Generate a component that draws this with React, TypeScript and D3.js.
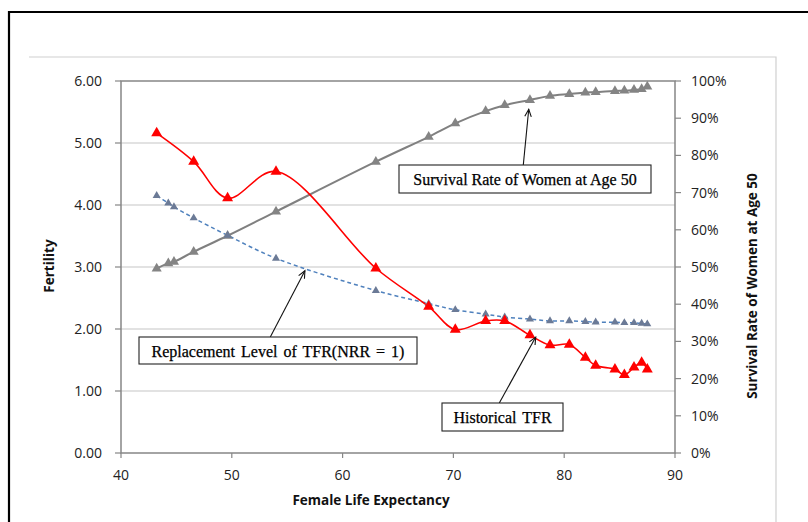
import { scaleLinear, line, curveCatmullRom, symbol, symbolTriangle } from "d3"

// female life expectancy (x) shared by all series
const lifeExp = [43.22, 44.27, 44.78, 46.56, 49.62, 53.99, 63.0, 67.77, 70.17, 72.91, 74.63, 76.91, 78.72, 80.46, 81.91, 82.84, 84.58, 85.43, 86.3, 86.99, 87.5]
const historicalTFR = [5.16, null, null, 4.7, 4.11, 4.54, 2.98, 2.36, 1.99, 2.13, 2.13, 1.9, 1.74, 1.75, 1.54, 1.41, 1.35, 1.26, 1.38, 1.46, 1.35]
const replacementTFR = [4.15, 4.03, 3.97, 3.79, 3.51, 3.14, 2.62, 2.41, 2.31, 2.24, 2.19, 2.16, 2.13, 2.13, 2.12, 2.11, 2.11, 2.1, 2.1, 2.09, 2.08]
const survival50 = [49.6, 51.0, 51.4, 54.1, 58.4, 64.9, 78.3, 85.0, 88.6, 91.9, 93.5, 94.9, 96.0, 96.5, 96.9, 97.0, 97.3, 97.4, 97.6, 97.8, 98.5]

const xTicks = [40, 50, 60, 70, 80, 90]
const fertTicks = [0, 1, 2, 3, 4, 5, 6]
const pctTicks = [0, 10, 20, 30, 40, 50, 60, 70, 80, 90, 100]

const W = 808
const H = 522
const MARGIN = { left: 121, top: 81, right: W - 675, bottom: H - 453 }
const FONT = "'Open Sans', 'Liberation Sans', sans-serif"
const SERIF = "'Liberation Serif', 'DejaVu Serif', serif"

function Arrow({ x1, y1, x2, y2 }: { x1: number; y1: number; x2: number; y2: number }) {
    const ang = Math.atan2(y2 - y1, x2 - x1)
    const len = 8
    const spread = 0.42
    const a1 = [x2 - len * Math.cos(ang - spread), y2 - len * Math.sin(ang - spread)]
    const a2 = [x2 - len * Math.cos(ang + spread), y2 - len * Math.sin(ang + spread)]
    return (
        <g stroke="#111" strokeWidth={1.1} fill="none">
            <line x1={x1} y1={y1} x2={x2} y2={y2} />
            <polyline points={`${a1[0]},${a1[1]} ${x2},${y2} ${a2[0]},${a2[1]}`} />
        </g>
    )
}

export default function App() {
    const boundsWidth = W - MARGIN.left - MARGIN.right
    const boundsHeight = H - MARGIN.top - MARGIN.bottom

    const xScale = scaleLinear().domain([40, 90]).range([0, boundsWidth])
    const yScale = scaleLinear().domain([0, 6]).range([boundsHeight, 0])
    const y2Scale = scaleLinear().domain([0, 100]).range([boundsHeight, 0])

    const tfrPts = lifeExp.map((x, i) => [x, historicalTFR[i]]).filter((d) => d[1] !== null) as [number, number][]
    const repPts = lifeExp.map((x, i) => [x, replacementTFR[i]]) as [number, number][]
    const survPts = lifeExp.map((x, i) => [x, survival50[i]]) as [number, number][]

    const fertLine = line<[number, number]>()
        .x((d) => xScale(d[0]))
        .y((d) => yScale(d[1]))
        .curve(curveCatmullRom.alpha(0.5))
    const survLine = line<[number, number]>()
        .x((d) => xScale(d[0]))
        .y((d) => y2Scale(d[1]))
        .curve(curveCatmullRom.alpha(0.5))

    const triBig = symbol(symbolTriangle, 52)() || ""
    const triMid = symbol(symbolTriangle, 44)() || ""
    const triSmall = symbol(symbolTriangle, 28)() || ""

    // arrow tips in data coordinates
    const survTip = { x: MARGIN.left + xScale(76.8), y: MARGIN.top + y2Scale(92.4) }
    const repTip = { x: MARGIN.left + xScale(56.6), y: MARGIN.top + yScale(2.94) }
    const tfrTip = { x: MARGIN.left + xScale(77.43), y: MARGIN.top + yScale(1.87) }

    const boxText = { fontFamily: SERIF, fontSize: 16, fill: "#000", stroke: "#000", strokeWidth: 0.25 }

    return (
        <div style={{ position: "absolute", left: 0, top: 0 }}>
            <svg width={W} height={H} viewBox={`0 0 ${W} ${H}`} style={{ display: "block", background: "#fff" }}>
                {/* frames */}
                <path d={`M9,${H} L9,12 L${W},12`} stroke="#000" strokeWidth={2.2} fill="none" />
                <path d={`M29,57 L776,57 L776,${H}`} stroke="#d0d0d0" strokeWidth={1.2} fill="none" />

                <g transform={`translate(${MARGIN.left},${MARGIN.top})`}>
                    {fertTicks.filter((t) => t > 0 && t < 6).map((t) => (
                        <line key={t} x1={0} x2={boundsWidth} y1={yScale(t)} y2={yScale(t)} stroke="#d9d9d9" strokeWidth={1.3} />
                    ))}
                    {/* plot border / axes */}
                    <rect x={0} y={0} width={boundsWidth} height={boundsHeight} fill="none" stroke="#868686" strokeWidth={1.5} />

                    {/* left ticks */}
                    {fertTicks.map((t) => (
                        <g key={t}>
                            <line x1={-6} x2={0} y1={yScale(t)} y2={yScale(t)} stroke="#868686" strokeWidth={1.2} />
                            <text x={-19} y={yScale(t) + 5} textAnchor="end" fontFamily={FONT} fontSize={14} fill="#222">
                                {t.toFixed(2)}
                            </text>
                        </g>
                    ))}
                    {/* right ticks */}
                    {pctTicks.map((t) => (
                        <g key={t}>
                            <line x1={boundsWidth} x2={boundsWidth + 6} y1={y2Scale(t)} y2={y2Scale(t)} stroke="#868686" strokeWidth={1.2} />
                            <text x={boundsWidth + 16} y={y2Scale(t) + 5} fontFamily={FONT} fontSize={14} fill="#222">
                                {t}%
                            </text>
                        </g>
                    ))}
                    {/* bottom ticks */}
                    {xTicks.map((t) => (
                        <g key={t}>
                            <line x1={xScale(t)} x2={xScale(t)} y1={boundsHeight} y2={boundsHeight + 5} stroke="#868686" strokeWidth={1.2} />
                            <text x={xScale(t)} y={boundsHeight + 27} textAnchor="middle" fontFamily={FONT} fontSize={14} fill="#222">
                                {t}
                            </text>
                        </g>
                    ))}

                    {/* series */}
                    <path d={survLine(survPts) || ""} stroke="#808080" strokeWidth={2} fill="none" />
                    <path d={fertLine(repPts) || ""} stroke="#4f81bd" strokeWidth={1.5} strokeDasharray="4,3" fill="none" />
                    <path d={fertLine(tfrPts) || ""} stroke="#ff0000" strokeWidth={1.6} fill="none" />

                    {survPts.map((d, i) => (
                        <path key={`s${i}`} d={triMid} transform={`translate(${xScale(d[0])},${y2Scale(d[1])})`} fill="#848484" />
                    ))}
                    {repPts.map((d, i) => (
                        <path key={`r${i}`} d={triSmall} transform={`translate(${xScale(d[0])},${yScale(d[1])})`} fill="#6b7a96" />
                    ))}
                    {tfrPts.map((d, i) => (
                        <path key={`t${i}`} d={triBig} transform={`translate(${xScale(d[0])},${yScale(d[1])})`} fill="#ff0000" />
                    ))}
                </g>

                {/* axis titles */}
                <text x={54} y={266} transform="rotate(-90 54 266)" textAnchor="middle" fontFamily={FONT} fontWeight={700} fontSize={13.5} fill="#111">
                    Fertility
                </text>
                <text x={757} y={286} transform="rotate(-90 757 286)" textAnchor="middle" fontFamily={FONT} fontWeight={700} fontSize={13.5} fill="#111">
                    Survival Rate of Women at Age 50
                </text>
                <text x={371} y={505} textAnchor="middle" fontFamily={FONT} fontWeight={700} fontSize={13.5} fill="#111">
                    Female Life Expectancy
                </text>

                {/* annotations */}
                <Arrow x1={523.3} y1={165} x2={survTip.x} y2={survTip.y} />
                <rect x={399} y={165} width={252} height={28} fill="#fff" stroke="#222" strokeWidth={1.1} />
                <text x={525} y={185} textAnchor="middle" {...boxText}>
                    Survival Rate of Women at Age 50
                </text>

                <Arrow x1={270.3} y1={337} x2={repTip.x} y2={repTip.y} />
                <rect x={139} y={337} width={278} height={27} fill="#fff" stroke="#222" strokeWidth={1.1} />
                <text x={278} y={356.5} textAnchor="middle" wordSpacing={2} {...boxText}>
                    Replacement Level of TFR(NRR = 1)
                </text>

                <Arrow x1={499.3} y1={403} x2={tfrTip.x} y2={tfrTip.y} />
                <rect x={442} y={403} width={121} height={28} fill="#fff" stroke="#222" strokeWidth={1.1} />
                <text x={502.5} y={423} textAnchor="middle" wordSpacing={2} {...boxText}>
                    Historical TFR
                </text>
            </svg>
        </div>
    )
}
